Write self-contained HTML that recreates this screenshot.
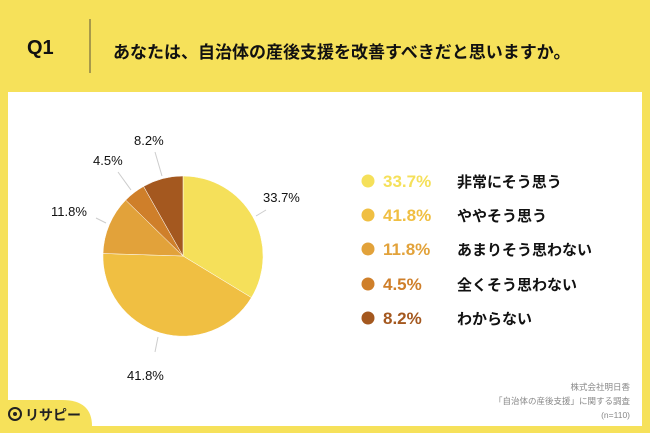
<!DOCTYPE html>
<html><head><meta charset="utf-8"><style>
body{margin:0;width:650px;height:433px;background:#f6e15a;position:relative;overflow:hidden;font-family:"Liberation Sans","Noto Sans CJK JP",sans-serif;}
.panel{position:absolute;left:8px;top:92px;width:634px;height:334px;background:#fff;}
.t{position:absolute;white-space:nowrap;color:#111;}
</style></head><body>
<div class="t" style="left:27px;top:37px;font-size:20px;font-weight:bold;">Q1</div>
<div style="position:absolute;left:89px;top:19px;width:2px;height:54px;background:#a89a4a;"></div>
<div class="t" style="left:113px;top:38px;font-size:17px;font-weight:bold;">あなたは、自治体の産後支援を改善すべきだと思いますか。</div>
<div class="panel"></div>
<svg width="650" height="433" style="position:absolute;left:0;top:0">
<g stroke="#fff" stroke-width="0.5">
<path d="M183,256 L183,176 A80,80 0 0 1 251.4,297.6 Z" fill="#f5e05a"/>
<path d="M183,256 L251.4,297.6 A80,80 0 0 1 103.0,253.5 Z" fill="#f0bf42"/>
<path d="M183,256 L103.0,253.5 A80,80 0 0 1 125.7,200.1 Z" fill="#e2a23a"/>
<path d="M183,256 L125.7,200.1 A80,80 0 0 1 143.6,186.4 Z" fill="#cf7f2a"/>
<path d="M183,256 L143.6,186.4 A80,80 0 0 1 183,176 Z" fill="#a4581f"/>
</g>
<g stroke="#ccc" stroke-width="1">
<line x1="155" y1="152" x2="162" y2="176"/>
<line x1="118" y1="172" x2="131" y2="190"/>
<line x1="96" y1="218" x2="106" y2="223"/>
<line x1="256" y1="216" x2="266" y2="210"/>
<line x1="158" y1="337" x2="155" y2="352"/>
</g>
<g font-family="Liberation Sans, sans-serif" font-size="13" fill="#111">
<text x="134" y="145">8.2%</text>
<text x="93" y="165">4.5%</text>
<text x="51" y="216">11.8%</text>
<text x="263" y="202">33.7%</text>
<text x="127" y="380">41.8%</text>
</g>
<g font-weight="bold" font-size="17" font-family="Liberation Sans, sans-serif">
<circle cx="368" cy="181" r="6.5" fill="#f5e05a"/><text x="383" y="187" fill="#f5e05a">33.7%</text>
<circle cx="368" cy="215" r="6.5" fill="#f0bf42"/><text x="383" y="221" fill="#f0bf42">41.8%</text>
<circle cx="368" cy="249" r="6.5" fill="#e2a23a"/><text x="383" y="255" fill="#e2a23a">11.8%</text>
<circle cx="368" cy="284" r="6.5" fill="#cf7f2a"/><text x="383" y="290" fill="#cf7f2a">4.5%</text>
<circle cx="368" cy="318" r="6.5" fill="#a4581f"/><text x="383" y="324" fill="#a4581f">8.2%</text>
</g>
<g font-weight="bold" font-size="15" fill="#111" font-family="Liberation Sans, Noto Sans CJK JP, sans-serif">
<text x="457" y="187">非常にそう思う</text>
<text x="457" y="221">ややそう思う</text>
<text x="457" y="255">あまりそう思わない</text>
<text x="457" y="290">全くそう思わない</text>
<text x="457" y="324">わからない</text>
</g>
<g font-size="8.5" fill="#888" text-anchor="end" font-family="Liberation Sans, Noto Sans CJK JP, sans-serif">
<text x="630" y="390">株式会社明日香</text>
<text x="630" y="404">「自治体の産後支援」に関する調査</text>
<text x="630" y="418">(n=110)</text>
</g>
<path d="M0,400 L62,400 Q92,400 92,426 L92,433 L0,433 Z" fill="#f6e15a"/>
<circle cx="15" cy="414" r="6" fill="none" stroke="#222" stroke-width="2"/>
<circle cx="15" cy="414" r="2" fill="#222"/>
<text x="25" y="420" font-size="14" font-weight="bold" fill="#222" font-family="Liberation Sans, Noto Sans CJK JP, sans-serif">リサピー</text>
</svg>
</body></html>
